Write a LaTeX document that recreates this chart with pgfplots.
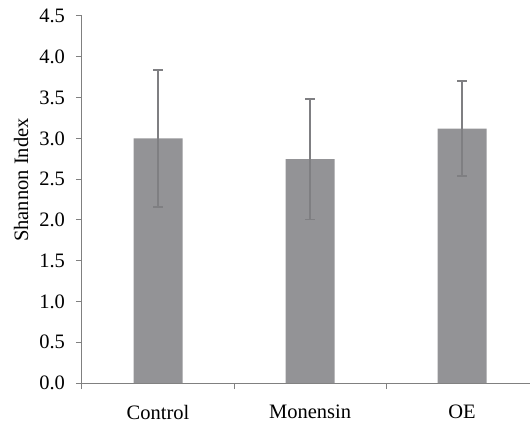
\documentclass[border=0pt]{standalone}
\usepackage{pgfplots}
\pgfplotsset{compat=1.18}
\usepackage{fontspec}
\setmainfont{Liberation Serif}
\definecolor{barfill}{HTML}{939396}
\definecolor{errcol}{HTML}{7F7F82}
\definecolor{axcol}{HTML}{808080}
\begin{document}
\fontsize{20.5}{24}\selectfont
\begin{tikzpicture}
\begin{axis}[
  name=ax,
  scale only axis,
  width=448pt, height=367pt,
  xmin=-0.5, xmax=2.447,
  ymin=0, ymax=4.5,
  axis x line*=bottom, axis y line*=left,
  axis line style={axcol, line width=1pt, -},
  every tick/.style={axcol, line width=1pt},
  tick align=outside,
  major tick length=6pt,
  ytick={0,0.5,...,4.5},
  yticklabel={\pgfmathprintnumber[fixed,fixed zerofill,precision=1,assume math mode=true]{\tick}},
  yticklabel style={font=\rmfamily\fontsize{20.5}{24}\selectfont, xshift=-4pt},
  xtick={-0.5,0.5,1.5},
  xticklabels={},
  extra x ticks={0,1,2},
  extra x tick labels={Control,Monensin,OE},
  extra x tick style={major tick length=0pt, xticklabel style={yshift=-15pt, font=\rmfamily\fontsize{20.5}{24}\selectfont}},
  ylabel={Shannon Index},
  ylabel style={at={(rel axis cs:-0.136,0.553)}, anchor=center, font=\rmfamily\fontsize{20.5}{24}\selectfont},
  clip=false,
]
\addplot[ybar, bar width=49pt, fill=barfill, draw=none,
  error bars/.cd, y dir=both, y explicit,
  error bar style={errcol, line width=1.6pt},
  error mark options={rotate=90, mark size=4.7pt, errcol, line width=1.6pt}]
  table[x=x, y=y, y error=e] {
x y e
0 3.000 0.84
1 2.745 0.74
2 3.120 0.585
};
\end{axis}
\pgfresetboundingbox
\path[use as bounding box] ([xshift=-82pt,yshift=-40pt]ax.south west) rectangle ([yshift=16pt]ax.north east);
\end{tikzpicture}
\end{document}
